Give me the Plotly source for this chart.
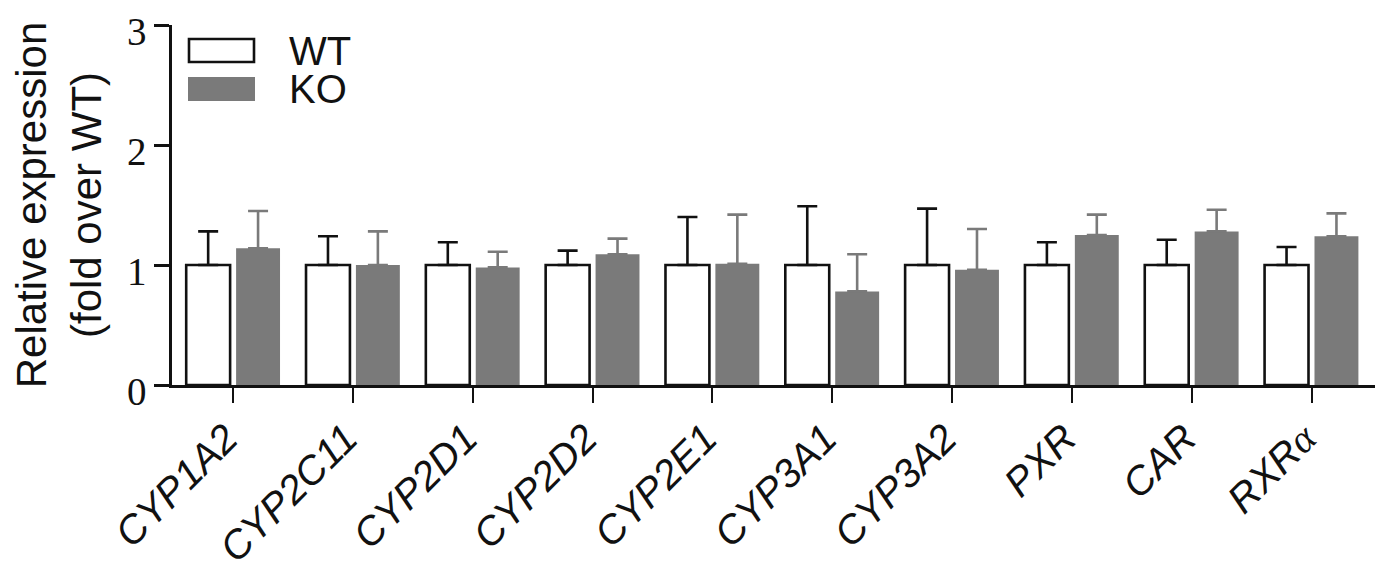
import plotly.graph_objects as go

genes = ["CYP1A2", "CYP2C11", "CYP2D1", "CYP2D2", "CYP2E1", "CYP3A1", "CYP3A2", "PXR", "CAR", "RXRα"]
tick_text = ["CYP1A2", "CYP2C11", "CYP2D1", "CYP2D2", "CYP2E1", "CYP3A1", "CYP3A2", "PXR", "CAR",
             "RXR<span style=\"font-family:'Liberation Serif'\">α</span>"]
wt_mean = [1.0, 1.0, 1.0, 1.0, 1.0, 1.0, 1.0, 1.0, 1.0, 1.0]
wt_err = [0.28, 0.24, 0.19, 0.12, 0.40, 0.49, 0.47, 0.19, 0.21, 0.15]
ko_mean = [1.14, 1.00, 0.98, 1.09, 1.01, 0.78, 0.96, 1.25, 1.28, 1.24]
ko_err = [0.31, 0.28, 0.13, 0.13, 0.41, 0.31, 0.34, 0.17, 0.18, 0.19]
y_ticks = [0, 1, 2, 3]

x = list(range(len(genes)))

KO_COLOR = "#7a7a7a"
KO_ERR_COLOR = "#828282"
INK = "#111111"

fig = go.Figure()
fig.add_trace(go.Bar(
    x=x, y=wt_mean, name="WT",
    marker=dict(color="white", line=dict(color=INK, width=2.6)),
    error_y=dict(type="data", array=wt_err, arrayminus=[0] * len(wt_err), symmetric=False,
                 color=INK, thickness=2.6, width=10),
))
fig.add_trace(go.Bar(
    x=x, y=ko_mean, name="KO",
    marker=dict(color=KO_COLOR, line=dict(width=0)),
    error_y=dict(type="data", array=ko_err, arrayminus=[0] * len(ko_err), symmetric=False,
                 color=KO_COLOR, thickness=2.6, width=10),
))

# page has an 8px body margin; figure is sized so the page matches the target
OFF = 8
W, H = 1375, 561
L, R, T, B = 164, 8, 17, 184
pw, ph = W - L - R, H - T - B

def px(xp):
    return (xp - OFF - L) / pw

def py(yp):
    return (H - B - (yp - OFF)) / ph

# legend keys
shapes = [
    dict(type="rect", xref="paper", yref="paper", x0=px(189), x1=px(254), y0=py(62), y1=py(39),
         fillcolor="white", line=dict(color=INK, width=2.6)),
    dict(type="rect", xref="paper", yref="paper", x0=px(188), x1=px(255), y0=py(101), y1=py(77),
         fillcolor=KO_COLOR, line=dict(width=0)),
]
annotations = [
    dict(text="WT", xref="paper", yref="paper", x=px(287), y=py(51), xanchor="left", yanchor="middle",
         showarrow=False, font=dict(family="Liberation Sans", size=40, color=INK)),
    dict(text="KO", xref="paper", yref="paper", x=px(287), y=py(89), xanchor="left", yanchor="middle",
         showarrow=False, font=dict(family="Liberation Sans", size=40, color=INK)),
]

fig.update_layout(
    width=W, height=H,
    margin=dict(l=L, r=R, t=T, b=B, autoexpand=False),
    paper_bgcolor="white", plot_bgcolor="white",
    barmode="group", bargap=0.167, bargroupgap=0.12,
    showlegend=False,
    shapes=shapes, annotations=annotations,
    xaxis=dict(
        range=[-0.51, 9.53], tickmode="array", tickvals=x, ticktext=tick_text,
        tickangle=-45, ticks="outside", ticklen=15, tickwidth=2.2, tickcolor=INK,
        showline=True, linecolor=INK, linewidth=2.6, showgrid=False, zeroline=False,
        tickfont=dict(family="Liberation Sans", size=40, color=INK, style="italic"),
        ticklabeloverflow="allow", ticklabelshift=-7, ticklabelstandoff=-4,
        automargin=False,
    ),
    yaxis=dict(
        range=[0, 3], tickmode="array", tickvals=y_ticks, ticktext=[str(v) for v in y_ticks],
        ticks="outside", ticklen=15, tickwidth=2.6, tickcolor=INK,
        showline=True, linecolor=INK, linewidth=2.6, showgrid=False, zeroline=False,
        tickfont=dict(family="Liberation Serif", size=39, color=INK),
        ticklabeloverflow="allow", ticklabelshift=6,
        title=dict(text="Relative expression<br>(fold over WT)", standoff=21,
                   font=dict(family="Liberation Sans", size=42, color=INK)),
        automargin=False,
    ),
)

fig.write_html("out.html")
